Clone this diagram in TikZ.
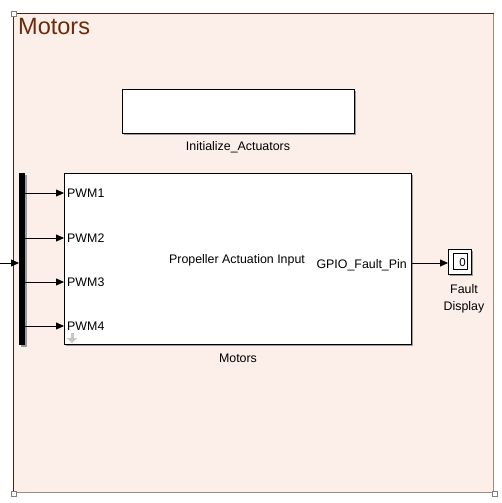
\documentclass[tikz,border=0pt]{standalone}
\usepackage{fontspec}
\setmainfont{Liberation Sans}
\usetikzlibrary{arrows.meta}
\definecolor{areafill}{HTML}{FCEEE9}
\definecolor{areadark}{HTML}{4A2210}
\definecolor{arealight}{HTML}{A88878}
\definecolor{titlecol}{HTML}{6B2A0A}
\definecolor{shadowcol}{HTML}{9A9A9A}
\tikzset{
  blk/.style={draw=black, fill=white, line width=0.9pt},
  shad/.style={fill=shadowcol, draw=none},
  sig/.style={draw=black, line width=0.8pt, -{Triangle[length=8pt,width=7pt]}},
  lbl/.style={font=\fontsize{12.4}{17}\selectfont, inner sep=0pt},
  corner/.style={draw=gray, fill=white, line width=0.8pt},
}
\begin{document}
\begin{tikzpicture}[x=1pt,y=-1pt]
\useasboundingbox (0,0) rectangle (502,503);
\fill[white] (0,0) rectangle (502,503);
% area
\fill[areafill] (13,13) rectangle (494,493);
\draw[arealight, line width=1.6pt] (13.5,492.5) -- (493.5,492.5) -- (493.5,13.5);
\draw[areadark, line width=1pt] (13.5,492.5) -- (13.5,13.5) -- (493.5,13.5);
\node[anchor=base west, inner sep=0pt, text=titlecol, font=\fontsize{23.5}{27}\selectfont] (title) at (18,35) {Motors};
% corner markers
\draw[corner] (11,11) rectangle (16,16);
\draw[corner] (11,491) rectangle (16,496);
\draw[corner] (492,491) rectangle (497,496);
% Initialize_Actuators
\fill[shad] (124,91) rectangle (356,135);
\node[blk, minimum width=232pt, minimum height=44pt, anchor=north west, inner sep=0pt] (init) at (122,89) {};
\node[lbl, anchor=base] (initlbl) at (238,150) {Initialize\_Actuators};
% Motors block
\fill[shad] (66,175) rectangle (413,346);
\node[blk, minimum width=347pt, minimum height=171pt, anchor=north west, inner sep=0pt] (mot) at (64,173) {};
\node[lbl, anchor=base] (motlbl) at (238,362) {Motors};
% bus bar
\fill[shad] (21,175) rectangle (27,347);
\node[fill=black, draw=none, minimum width=6pt, minimum height=172pt, anchor=north west, inner sep=0pt] (bus) at (19,173) {};
% input
\coordinate (in) at (0,263);
\draw[sig] (in) -- (bus.west |- in);
% ports
\foreach \y/\n in {193/1,238/2,282/3,326/4}{
  \coordinate (p\n) at (64,\y);
  \draw[sig] (bus.east |- p\n) -- (p\n);
  \node[lbl, anchor=base west] (pl\n) at (67,\y+4.3) {PWM\n};
}
\node[lbl, anchor=base] (propin) at (237,263) {Propeller Actuation Input};
\node[lbl, anchor=base east] (gpio) at (407,268) {GPIO\_Fault\_Pin};
% small gray arrow icon
\fill[gray!45] (70.5,333) rectangle (73.5,338.5);
\fill[gray!45] (67,338) -- (77,338) -- (72,343) -- cycle;
% display
\fill[shad] (450,251) rectangle (473,276);
\node[blk, minimum width=23pt, minimum height=25pt, anchor=north west, inner sep=0pt] (disp) at (448,249) {};
\draw[black, line width=0.7pt] (453,253) rectangle (467,269);
\node[lbl, anchor=base east, font=\fontsize{11.5}{12}\selectfont] (zero) at (466,266) {0};
\draw[sig] (mot.east |- 0,263) -- (disp.west |- 0,263);
\node[lbl, align=center, anchor=base] (displbl) at (464,310) {Fault\\Display};
\end{tikzpicture}
\end{document}
